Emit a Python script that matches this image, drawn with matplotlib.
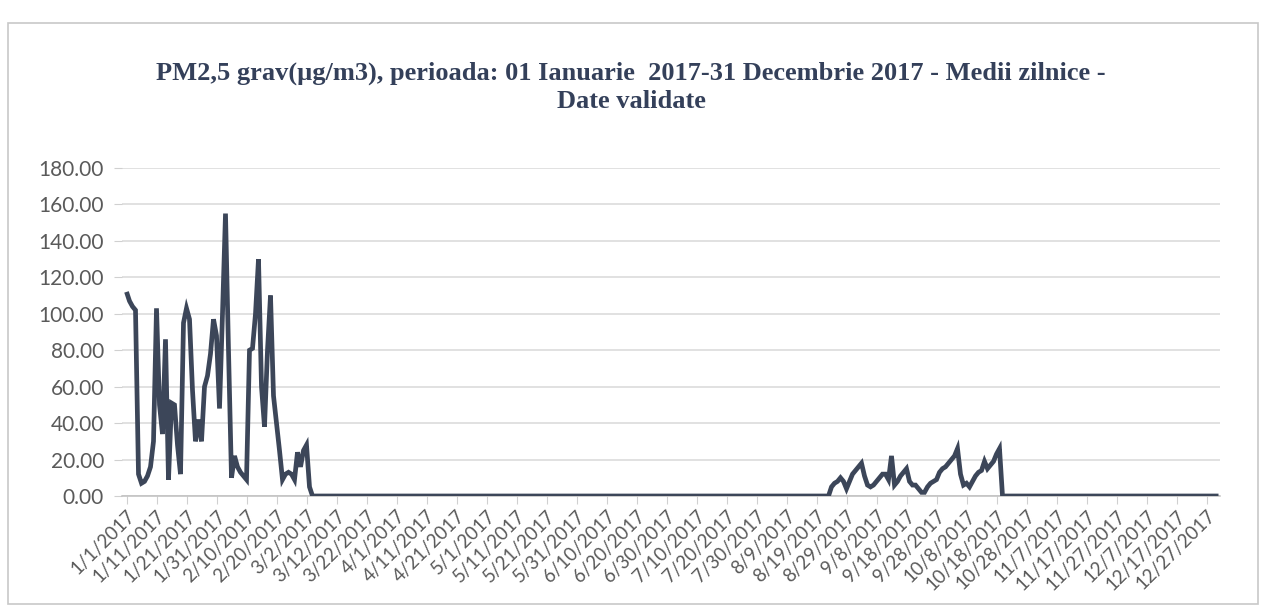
import matplotlib
matplotlib.use("Agg")
import matplotlib.pyplot as plt
import matplotlib.dates as mdates
from matplotlib.patches import Rectangle
import pandas as pd

# ---------------- data (daily means, µg/m3) ----------------
title_text = ("PM2,5 grav(\u00b5g/m3), perioada: 01 Ianuarie  2017-31 Decembrie 2017 - Medii zilnice -\n"
              "Date validate")
start_date = "2017-01-01"

jan = [112, 107, 104, 102, 12, 7, 8, 11, 16, 30,
       103, 50, 34, 86, 9, 51, 50, 28, 12, 95,
       103, 97, 58, 30, 42, 30, 60, 66, 78, 97,
       88]
feb = [48, 100, 155, 80, 10, 22, 16, 13, 11, 9,
       80, 81, 100, 130, 60, 38, 80, 110, 55, 40,
       25, 9, 12, 13, 12, 9, 24, 16]
mar = [25, 28, 5, 0, 0, 0, 0, 0, 0, 0,
       0, 0, 0, 0, 0, 0, 0, 0, 0, 0,
       0, 0, 0, 0, 0, 0, 0, 0, 0, 0,
       0]
apr = [0, 0, 0, 0, 0, 0, 0, 0, 0, 0,
       0, 0, 0, 0, 0, 0, 0, 0, 0, 0,
       0, 0, 0, 0, 0, 0, 0, 0, 0, 0]
may = [0, 0, 0, 0, 0, 0, 0, 0, 0, 0,
       0, 0, 0, 0, 0, 0, 0, 0, 0, 0,
       0, 0, 0, 0, 0, 0, 0, 0, 0, 0,
       0]
jun = [0, 0, 0, 0, 0, 0, 0, 0, 0, 0,
       0, 0, 0, 0, 0, 0, 0, 0, 0, 0,
       0, 0, 0, 0, 0, 0, 0, 0, 0, 0]
jul = [0, 0, 0, 0, 0, 0, 0, 0, 0, 0,
       0, 0, 0, 0, 0, 0, 0, 0, 0, 0,
       0, 0, 0, 0, 0, 0, 0, 0, 0, 0,
       0]
aug = [0, 0, 0, 0, 0, 0, 0, 0, 0, 0,
       0, 0, 0, 0, 0, 0, 0, 0, 0, 0,
       0, 0, 0, 5, 7, 8, 10, 8, 4, 8,
       12]
sep = [14, 16, 18, 11, 6, 5, 6, 8, 10, 12,
       12, 9, 22, 6, 8, 11, 13, 15, 8, 6,
       6, 4, 2, 2, 5, 7, 8, 9, 13, 15]
oct_ = [16, 18, 20, 22, 26, 12, 6, 7, 5, 8,
        11, 13, 14, 19, 15, 17, 19, 23, 26, 0,
        0, 0, 0, 0, 0, 0, 0, 0, 0, 0,
        0]
nov = [0, 0, 0, 0, 0, 0, 0, 0, 0, 0,
       0, 0, 0, 0, 0, 0, 0, 0, 0, 0,
       0, 0, 0, 0, 0, 0, 0, 0, 0, 0]
dec = [0, 0, 0, 0, 0, 0, 0, 0, 0, 0,
       0, 0, 0, 0, 0, 0, 0, 0, 0, 0,
       0, 0, 0, 0, 0, 0, 0, 0, 0, 0,
       0]

y_ticks = [0, 20, 40, 60, 80, 100, 120, 140, 160, 180]
tick_every_days = 10

values = jan + feb + mar + apr + may + jun + jul + aug + sep + oct_ + nov + dec
dates = pd.date_range(start_date, periods=len(values), freq="D")

# ---------------- figure ----------------
W, H = 1262, 614
fig = plt.figure(figsize=(W / 100, H / 100), dpi=100)
fig.patch.set_facecolor("white")

# chart-area border
fig.patches.append(Rectangle((8 / W, 1 - 604 / H), (1258 - 8) / W, (604 - 23) / H,
                             transform=fig.transFigure, fill=False,
                             edgecolor="#c8c8c8", linewidth=1.2))

left, right = 122 / W, 1220 / W
bottom, top = 1 - 496 / H, 1 - 168 / H
ax = fig.add_axes([left, bottom, right - left, top - bottom])

line_color = "#3c4659"
grid_color = "#d9d9d9"
text_gray = "#5a5a5a"

ax.plot(dates, values, color=line_color, linewidth=3.4, solid_joinstyle="miter",
        solid_capstyle="butt", zorder=3)

ax.set_ylim(0, 180)
ax.set_xlim(dates[0] - pd.Timedelta(hours=36), dates[-1] + pd.Timedelta(hours=12))
ax.set_yticks(y_ticks)
ax.set_yticklabels([f"{v:.2f}" for v in y_ticks])

ax.set_xticks(dates[::tick_every_days])
ax.xaxis.set_major_formatter(mdates.DateFormatter("%-m/%-d/%Y"))

ax.grid(axis="y", color=grid_color, linewidth=1.1, zorder=0)
ax.set_axisbelow(True)
for s in ["top", "right", "left"]:
    ax.spines[s].set_visible(False)
ax.spines["bottom"].set_color("#bfbfbf")
ax.spines["bottom"].set_linewidth(1.1)

ax.tick_params(axis="y", length=6, color="#d0d0d0", labelsize=15,
               labelcolor=text_gray, pad=7)
ax.tick_params(axis="x", length=6, color="#d0d0d0", labelsize=13.5,
               labelcolor=text_gray, pad=2)
for lbl in ax.get_yticklabels():
    lbl.set_family("Lato")
for lbl in ax.get_xticklabels():
    lbl.set_family("Lato")
    lbl.set_rotation(45)
    lbl.set_ha("right")
    lbl.set_va("top")
    lbl.set_rotation_mode("anchor")

fig.text(0.5, 1 - 87 / H, title_text, ha="center", va="center",
         fontsize=19, fontweight="bold", family="Liberation Serif",
         color="#34405a", linespacing=1.3)

fig.savefig("out.png", dpi=100, facecolor="white")
